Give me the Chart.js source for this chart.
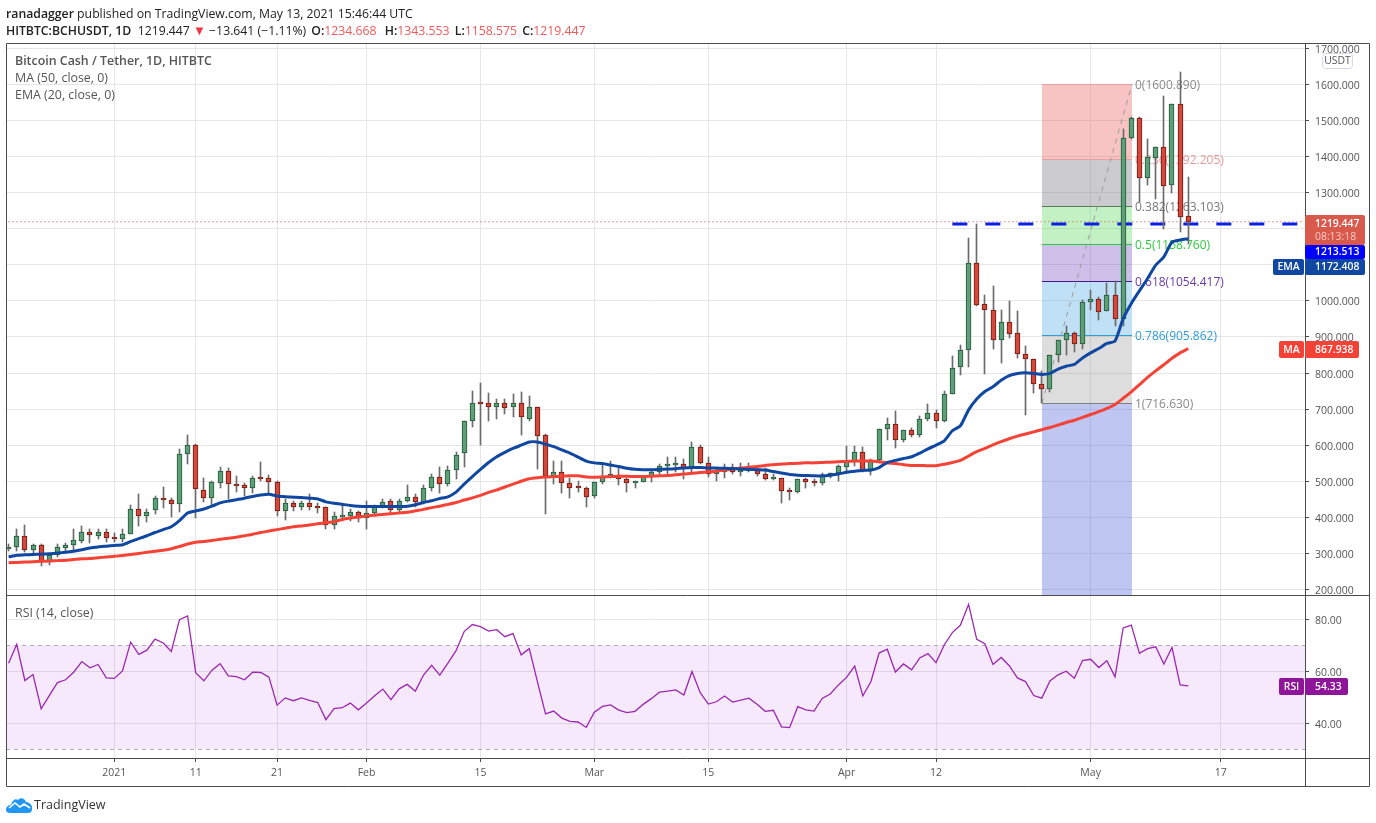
<!DOCTYPE html>
<html>
<head>
<meta charset="utf-8">
<title>BCHUSDT</title>
<script src="https://cdn.jsdelivr.net/npm/chart.js@4/dist/chart.umd.js"></script>
<style>
    html, body { margin: 0; padding: 0; background: #fff; overflow: hidden; }
    body { width: 1376px; height: 823px; position: relative; font-family: "Open Sans", sans-serif; }
    canvas { position: absolute; left: 0; top: 0; }
    .txt { position: absolute; white-space: pre; font-size: 12.4px; line-height: 16px; color: #555; }
    .top { color: #222; font-size: 12.25px; }
    .top b { font-weight: 600; }
    .top i { font-style: normal; color: #f05a5a; }
    .down { color: #f23645; font-size: 13px; line-height: 12px; }
</style>
</head>
<body>
<canvas id="chart" width="1376" height="823"></canvas>
<div class="txt top" style="left:6px;top:6px"><b>ranadagger</b> published on TradingView.com, May 13, 2021 15:46:44 UTC</div>
<div class="txt top" style="left:6px;top:23px"><b>HITBTC:BCHUSDT, 1D</b>  1219.447 <span class="down">&#9660;</span> &minus;13.641 (&minus;1.11%) <b style="margin-left:2px">O:</b><i>1234.668</i> <b style="margin-left:5px">H:</b><i>1343.553</i> <b style="margin-left:2px">L:</b><i>1158.575</i> <b style="margin-left:2px">C:</b><i>1219.447</i></div>
<div class="txt" style="left:15px;top:53px;font-weight:600">Bitcoin Cash / Tether, 1D, HITBTC</div>
<div class="txt" style="left:15px;top:70px">MA (50, close, 0)</div>
<div class="txt" style="left:15px;top:87px">EMA (20, close, 0)</div>
<div class="txt" style="left:15px;top:605px">RSI (14, close)</div>
<svg style="position:absolute;left:6px;top:796px" width="27" height="17" viewBox="0 0 27 17">
    <path d="M0 14 C0 10 3 9 5 9 C6 5 9 2 12 4 C14 1 19 2 20 6 C24 6 27 10 26 13 C26 16 24 17 22 17 L4 17 C2 17 0 16 0 14 Z" fill="#2196f3"/>
    <path d="M3 12 L9 7 L14 11 L18 8 L24 12" fill="none" stroke="#fff" stroke-width="1.6"/>
</svg>
<div class="txt" style="left:34px;top:797px;font-size:12.5px;color:#333">TradingView</div>

<script>
// first candle is 19 Dec 2020, day numbers count from 1 Jan 2021
var firstDay = -13;

var opens = [
    313, 317, 347, 310, 322, 275, 296, 316, 322, 334,
    358, 349, 358, 343, 341, 353, 422, 405, 419, 453,
    447, 436, 575, 600, 475, 453, 494, 528, 492, 489,
    481, 508, 508, 497, 417, 439, 430, 439, 430, 428,
    378, 402, 404, 415, 398, 412, 429, 446, 419, 445,
    457, 443, 482, 513, 493, 530, 577, 666, 718, 716,
    705, 718, 705, 718, 674, 705, 627, 515, 527, 496,
    483, 480, 459, 499, 512, 518, 505, 496, 499, 515,
    527, 542, 545, 549, 535, 594, 552, 520, 526, 540,
    526, 529, 535, 521, 506, 510, 475, 470, 505, 500,
    495, 514, 524, 540, 554, 580, 529, 560, 646, 660,
    615, 641, 629, 674, 688, 668, 743, 816, 863, 1105,
    991, 974, 891, 941, 910, 852, 838, 771, 757, 849,
    891, 910, 880, 996, 1005, 971, 1016, 949, 1453, 1508,
    1340, 1395, 1428, 1320, 1547, 1234.668
];
var highs = [
    326, 368, 379, 326, 326, 298, 326, 330, 367, 376,
    367, 367, 367, 356, 367, 434, 465, 422, 459, 484,
    454, 590, 629, 603, 509, 500, 539, 536, 514, 494,
    514, 553, 517, 500, 450, 444, 446, 464, 439, 430,
    414, 433, 422, 418, 444, 433, 450, 452, 450, 489,
    465, 489, 519, 539, 541, 580, 668, 749, 772, 744,
    728, 728, 742, 747, 735, 707, 630, 555, 555, 510,
    502, 485, 499, 547, 555, 536, 509, 501, 515, 533,
    547, 566, 566, 563, 609, 600, 568, 538, 547, 547,
    550, 550, 538, 538, 519, 510, 482, 506, 508, 506,
    522, 524, 544, 597, 597, 594, 563, 646, 675, 694,
    641, 649, 680, 714, 697, 749, 847, 878, 1175, 1214,
    1017, 1042, 975, 1000, 971, 875, 838, 805, 849, 891,
    930, 913, 1002, 1030, 1010, 1049, 1056, 1476, 1510, 1511,
    1448, 1428, 1568, 1547, 1635, 1343.553
];
var lows = [
    306, 306, 305, 295, 266, 269, 291, 306, 306, 330,
    329, 340, 332, 331, 332, 353, 377, 388, 410, 427,
    402, 416, 549, 399, 443, 434, 482, 452, 471, 460,
    468, 502, 467, 405, 392, 418, 421, 421, 413, 368,
    368, 390, 390, 387, 368, 404, 427, 413, 415, 443,
    430, 436, 473, 467, 487, 506, 540, 651, 601, 668,
    672, 686, 679, 629, 666, 535, 409, 492, 468, 454,
    471, 429, 454, 493, 510, 489, 470, 481, 498, 498,
    519, 517, 526, 506, 519, 547, 512, 501, 510, 519,
    515, 526, 515, 504, 504, 440, 447, 467, 480, 487,
    489, 508, 501, 524, 543, 526, 517, 552, 615, 593,
    609, 623, 623, 668, 648, 665, 743, 795, 818, 985,
    798, 867, 829, 897, 841, 684, 745, 718, 748, 830,
    850, 858, 867, 975, 947, 971, 930, 930, 1450, 1273,
    1322, 1283, 1198, 1299, 1192, 1158.575
];
var closes = [
    317, 347, 310, 322, 275, 296, 317, 322, 336, 358,
    352, 358, 342, 341, 353, 422, 405, 416, 453, 447,
    436, 575, 600, 478, 453, 497, 528, 492, 488, 481,
    508, 506, 497, 417, 439, 430, 439, 430, 427, 378,
    403, 405, 416, 398, 413, 429, 443, 421, 446, 457,
    443, 482, 513, 493, 530, 574, 666, 718, 715, 705,
    716, 702, 718, 677, 705, 626, 515, 527, 495, 482,
    481, 457, 499, 515, 521, 505, 496, 499, 515, 527,
    543, 546, 549, 538, 594, 552, 520, 527, 540, 526,
    532, 535, 520, 506, 510, 473, 470, 505, 498, 496,
    516, 524, 541, 555, 580, 529, 560, 646, 660, 615,
    641, 629, 674, 688, 668, 743, 814, 863, 1105, 988,
    974, 891, 941, 907, 852, 838, 771, 757, 849, 891,
    910, 880, 996, 1005, 970, 1016, 949, 1453, 1508, 1342,
    1400, 1428, 1318, 1547, 1232, 1219.447
];
var ema20 = [
    290, 295, 296, 297, 298, 299, 301, 303, 306, 310,
    315, 318, 320, 322, 324, 333, 341, 349, 358, 366,
    374, 391, 412, 418, 423, 431, 440, 445, 449, 453,
    458, 462, 464, 459, 457, 456, 455, 453, 451, 443,
    439, 436, 433, 431, 430, 430, 430, 430, 430, 431,
    435, 441, 446, 452, 457, 470, 492, 513, 533, 552,
    568, 580, 591, 600, 609, 609, 603, 596, 587, 578,
    567, 556, 551, 549, 545, 541, 536, 533, 532, 532,
    533, 534, 535, 537, 538, 538, 537, 537, 536, 535,
    534, 533, 532, 531, 527, 523, 519, 517, 516, 515,
    515, 517, 520, 525, 528, 530, 531, 538, 552, 558,
    563, 568, 578, 590, 600, 612, 640, 654, 698, 728,
    749, 762, 780, 793, 799, 801, 799, 796, 799, 811,
    819, 824, 842, 856, 868, 882, 889, 951, 993, 1028,
    1062, 1099, 1122, 1163, 1169, 1172.408
];
var ma50 = [
    274, 275, 276, 277, 278, 279, 280, 281, 283, 285,
    286, 288, 290, 292, 294, 297, 300, 303, 306, 309,
    313, 319, 326, 331, 333, 336, 339, 342, 345, 349,
    353, 358, 362, 366, 370, 374, 376, 379, 382, 385,
    388, 394, 398, 401, 404, 406, 408, 410, 412, 414,
    418, 422, 427, 431, 436, 441, 448, 454, 461, 469,
    476, 484, 492, 500, 507, 510, 512, 513, 514, 515,
    515, 512, 511, 512, 513, 514, 514, 513, 513, 514,
    515, 516, 518, 520, 522, 524, 526, 528, 531, 534,
    537, 539, 541, 544, 546, 548, 549, 550, 551, 551,
    552, 553, 554, 555, 556, 556, 556, 554, 551, 549,
    546, 544, 544, 543, 543, 547, 552, 558, 570, 582,
    591, 601, 610, 618, 625, 631, 637, 643, 649, 656,
    663, 669, 677, 685, 693, 702, 713, 730, 748, 768,
    788, 806, 823, 841, 856, 867.938
];
var rsi14 = [
    63.1, 70.4, 56.4, 58.7, 45.5, 50.6, 55.6, 56.7, 59.6, 63.7,
    61.3, 62.6, 57.4, 57.2, 60.1, 71.2, 66.5, 68.1, 72.4, 70.9,
    67.6, 79.9, 81.3, 59.4, 56.3, 60.4, 62.9, 58.2, 57.9, 56.7,
    59.6, 59.5, 57.7, 46.9, 49.7, 48.6, 49.7, 48.7, 47.9, 41.3,
    45.6, 45.9, 47.7, 45.1, 47.7, 50.5, 53.1, 49, 53.2, 54.9,
    52.3, 58.5, 62.3, 58.5, 63.1, 67.9, 75.3, 78, 77.2, 75.5,
    76, 73.3, 74.5, 66.3, 68.7, 56, 43.5, 44.6, 41.9, 40.6,
    40.4, 38.3, 44.2, 46.4, 47, 45, 44, 44.5, 47.2, 49.4,
    51.9, 52.3, 52.8, 50.8, 59.9, 51.8, 47.3, 48.2, 50.4, 48.1,
    48.8, 49.6, 47.2, 44.5, 44.9, 38.5, 38.2, 46.3, 45.1, 44.6,
    49.5, 51.2, 54.7, 57.6, 62, 50.5, 56, 67, 68.5, 59.7,
    62.8, 60.5, 65.1, 66.8, 63.3, 70.1, 74.9, 77.8, 85.8, 72.3,
    70.6, 62.6, 65.3, 62.1, 57.4, 56, 50.6, 49.6, 56.2, 58.6,
    60, 57.3, 64.1, 64.6, 61.4, 64, 57.8, 76.7, 77.8, 66.9,
    68.7, 69.4, 62.8, 69.2, 54.7, 54.33
];

var xTickDays = [0, 10, 20, 31, 45, 59, 73, 90, 101, 120, 136];
var xTickLabels = ['2021', '11', '21', 'Feb', '15', 'Mar', '15', 'Apr', '12', 'May', '17'];
var priceTicks = [200, 300, 400, 500, 600, 700, 800, 900, 1000, 1100, 1200, 1300, 1400, 1500, 1600, 1700];
var rsiTicks = [40, 60, 80];

// fib retracement drawn on the chart
var fibStartDay = 114;
var fibEndDay = 125.1;
var fibLevels = [1600.89, 1392.205, 1263.103, 1158.76, 1054.417, 905.862, 716.63];
var fibNames = ['0(1600.890)', '0.236(1392.205)', '0.382(1263.103)', '0.5(1158.760)', '0.618(1054.417)', '0.786(905.862)', '1(716.630)'];
var fibFills = ['rgba(235,90,90,0.36)', 'rgba(130,130,140,0.42)', 'rgba(70,215,75,0.33)', 'rgba(103,58,183,0.32)',
    'rgba(60,160,225,0.32)', 'rgba(128,128,128,0.27)', 'rgba(63,81,215,0.33)'];
var fibLines = ['#e8a0a0', '#e8a0a0', '#5c7a5c', '#2ecc40', '#4a1a8c', '#2d9cdb', '#808080'];
var fibText = ['#8a8a8a', '#e39a9a', '#777777', '#2ecc40', '#6a3ba8', '#2d9cdb', '#8a8a8a'];

var lastPrice = 1219.447;
var supportPrice = 1213.513;
var supportFrom = 103;
var supportTo = 146;
var priceMin = 184.7;
var priceMax = 1715;

var bodies = [], wicks = [], emaPts = [], maPts = [], rsiPts = [];
var bodyFill = [], bodyEdge = [];
for (var i = 0; i < closes.length; i++) {
    var d = firstDay + i;
    bodies.push({ x: d, y: [opens[i], closes[i]] });
    wicks.push({ x: d, y: [lows[i], highs[i]] });
    emaPts.push({ x: d, y: ema20[i] });
    maPts.push({ x: d, y: ma50[i] });
    rsiPts.push({ x: d, y: rsi14[i] });
    var up = closes[i] >= opens[i];
    bodyFill.push(up ? '#5f9e78' : '#d4493a');
    bodyEdge.push(up ? '#1f5a38' : '#701812');
}

function rect(ctx, x, y, w, h, color) {
    ctx.fillStyle = color;
    ctx.beginPath();
    ctx.roundRect(x, y, w, h, 2);
    ctx.fill();
}

function tag(ctx, text, y, x1, x2, h, color) {
    rect(ctx, x1, y, x2 - x1, h, color);
    ctx.fillStyle = '#fff';
    ctx.font = '600 10.4px "Open Sans"';
    ctx.textAlign = 'left';
    ctx.textBaseline = 'middle';
    ctx.fillText(text, x1 + 10, y + h / 2 + 0.5);
}

function nameTag(ctx, text, y, x1, x2, h, color) {
    rect(ctx, x1, y, x2 - x1, h, color);
    ctx.fillStyle = '#fff';
    ctx.font = '600 10.4px "Open Sans"';
    ctx.textAlign = 'center';
    ctx.textBaseline = 'middle';
    ctx.fillText(text, (x1 + x2) / 2, y + h / 2 + 0.5);
}

var underlay = {
    id: 'underlay',
    // snap candles to whole pixels so the bodies stay crisp
    afterDatasetsUpdate: function (chart) {
        chart.getSortedVisibleDatasetMetas().forEach(function (meta) {
            if (meta.type !== 'bar') return;
            meta.data.forEach(function (bar) {
                bar.x = Math.floor(bar.x) + 0.5;
                bar.y = Math.round(bar.y);
                bar.base = Math.round(bar.base);
                if (bar.y === bar.base) bar.base = bar.y + 1;
            });
        });
    },
    beforeDatasetsDraw: function (chart) {
        var ctx = chart.ctx, xs = chart.scales.x, ys = chart.scales.y, rs = chart.scales.rsi;
        var x1 = Math.round(xs.getPixelForValue(fibStartDay)), x2 = Math.round(xs.getPixelForValue(fibEndDay));
        ctx.save();

        // rsi band
        var y70 = rs.getPixelForValue(70), y30 = rs.getPixelForValue(30);
        ctx.fillStyle = 'rgba(156,39,220,0.1)';
        ctx.fillRect(xs.left, y70, xs.right - xs.left, y30 - y70);
        ctx.strokeStyle = '#b5aab9';
        ctx.lineWidth = 1;
        ctx.setLineDash([4, 4]);
        ctx.beginPath();
        ctx.moveTo(xs.left, Math.round(y70) + 0.5); ctx.lineTo(xs.right, Math.round(y70) + 0.5);
        ctx.moveTo(xs.left, Math.round(y30) + 0.5); ctx.lineTo(xs.right, Math.round(y30) + 0.5);
        ctx.stroke();
        ctx.setLineDash([]);

        // fib bands and lines
        for (var i = 0; i < fibLevels.length; i++) {
            var top = ys.getPixelForValue(fibLevels[i]);
            var bottom = i + 1 < fibLevels.length ? ys.getPixelForValue(fibLevels[i + 1]) : ys.bottom;
            ctx.fillStyle = fibFills[i];
            ctx.fillRect(x1, top, x2 - x1, bottom - top);
        }
        ctx.font = '12px "Open Sans"';
        ctx.textBaseline = 'middle';
        ctx.textAlign = 'left';
        for (i = 0; i < fibLevels.length; i++) {
            var y = Math.round(ys.getPixelForValue(fibLevels[i])) + 0.5;
            ctx.strokeStyle = fibLines[i];
            ctx.beginPath();
            ctx.moveTo(x1, y);
            ctx.lineTo(x2, y);
            ctx.stroke();
            ctx.fillStyle = fibText[i];
            ctx.fillText(fibNames[i], x2 + 3, y + 1);
        }

        // fib trend line
        ctx.strokeStyle = '#9a9a9a';
        ctx.setLineDash([5, 5]);
        ctx.beginPath();
        ctx.moveTo(x1, ys.getPixelForValue(fibLevels[6]));
        ctx.lineTo(x2, ys.getPixelForValue(fibLevels[0]));
        ctx.stroke();
        ctx.restore();
    },
    afterDraw: function (chart) {
        var ctx = chart.ctx;
        ctx.save();

        // frame
        ctx.strokeStyle = '#4c4c4c';
        ctx.lineWidth = 1;
        ctx.beginPath();
        ctx.rect(6.5, 43.5, 1363, 743);
        ctx.moveTo(1305.5, 43); ctx.lineTo(1305.5, 786);
        ctx.moveTo(6, 595.5); ctx.lineTo(1369, 595.5);
        ctx.moveTo(6, 758.5); ctx.lineTo(1369, 758.5);
        ctx.stroke();

        // usdt box
        ctx.fillStyle = '#fff';
        ctx.strokeStyle = '#d5d8e4';
        ctx.beginPath();
        ctx.roundRect(1322.5, 53.5, 30, 15, 3);
        ctx.fill();
        ctx.stroke();
        ctx.fillStyle = '#555';
        ctx.font = '10.4px "Open Sans"';
        ctx.textAlign = 'center';
        ctx.textBaseline = 'middle';
        ctx.fillText('USDT', 1337.5, 61.5);

        // price tags
        rect(ctx, 1305, 215, 60, 30, '#d9594c');
        ctx.fillStyle = '#fff';
        ctx.font = '600 10.4px "Open Sans"';
        ctx.textAlign = 'left';
        ctx.fillText(lastPrice.toFixed(3), 1315, 224);
        ctx.fillStyle = '#f6c9c3';
        ctx.font = '10.4px "Open Sans"';
        ctx.fillText('08:13:18', 1315, 237);
        tag(ctx, supportPrice.toFixed(3), 245, 1305, 1365, 14, '#0000ff');
        tag(ctx, ema20[ema20.length - 1].toFixed(3), 259, 1305, 1365, 16, '#0f47a1');
        nameTag(ctx, 'EMA', 259, 1273, 1304, 16, '#0f47a1');
        tag(ctx, ma50[ma50.length - 1].toFixed(3), 341, 1305, 1359, 17, '#f44336');
        nameTag(ctx, 'MA', 341, 1279, 1304, 17, '#f44336');
        tag(ctx, rsi14[rsi14.length - 1].toFixed(2), 678, 1305, 1348, 17, '#8e1599');
        nameTag(ctx, 'RSI', 678, 1279, 1304, 17, '#8e1599');
        ctx.restore();
    }
};

var tickFont = { family: '"Open Sans"', size: 10.5 };

new Chart(document.getElementById('chart'), {
    type: 'bar',
    data: {
        datasets: [{
            type: 'line',
            data: [{ x: -14, y: lastPrice }, { x: supportTo, y: lastPrice }],
            borderColor: '#c9483b',
            borderWidth: 1,
            borderDash: [1, 3],
            pointRadius: 0,
            yAxisID: 'y',
            order: 7
        }, {
            type: 'line',
            data: [{ x: supportFrom, y: supportPrice }, { x: supportTo, y: supportPrice }],
            borderColor: '#0a1fe6',
            borderWidth: 3,
            borderDash: [15, 18],
            pointRadius: 0,
            yAxisID: 'y',
            order: 6
        }, {
            data: wicks,
            backgroundColor: '#6b6b6b',
            barThickness: 1,
            grouped: false,
            yAxisID: 'y',
            order: 5
        }, {
            data: bodies,
            backgroundColor: bodyFill,
            borderColor: bodyEdge,
            borderWidth: 1,
            borderSkipped: false,
            barThickness: 5,
            minBarLength: 2,
            grouped: false,
            yAxisID: 'y',
            order: 4
        }, {
            type: 'line',
            data: maPts,
            borderColor: '#f44336',
            borderWidth: 3,
            pointRadius: 0,
            tension: 0.2,
            yAxisID: 'y',
            order: 3
        }, {
            type: 'line',
            data: emaPts,
            borderColor: '#0f47a1',
            borderWidth: 3,
            pointRadius: 0,
            tension: 0.2,
            yAxisID: 'y',
            order: 2
        }, {
            type: 'line',
            data: rsiPts,
            borderColor: '#9c27b0',
            borderWidth: 1.3,
            pointRadius: 0,
            yAxisID: 'rsi',
            order: 1
        }]
    },
    plugins: [underlay],
    options: {
        responsive: false,
        animation: false,
        layout: { padding: { left: 6, top: 43, right: 7, bottom: 37 } },
        plugins: { legend: { display: false }, tooltip: { enabled: false } },
        scales: {
            x: {
                type: 'linear',
                min: -13.32,
                max: 146.35,
                offset: false,
                grid: { offset: false, color: '#e6e6e6', tickColor: '#4c4c4c', tickLength: 4 },
                border: { display: false },
                afterBuildTicks: function (scale) {
                    scale.ticks = xTickDays.map(function (v) { return { value: v }; });
                },
                afterFit: function (scale) { scale.height = 28; },
                ticks: {
                    autoSkip: false,
                    maxRotation: 0,
                    padding: 5,
                    color: '#555',
                    font: tickFont,
                    callback: function (value, index) { return xTickLabels[index]; }
                }
            },
            y: {
                type: 'linear',
                position: 'right',
                stack: 'panes',
                stackWeight: 552,
                min: priceMin,
                max: priceMax,
                grid: { color: '#e6e6e6', tickColor: '#4c4c4c', tickLength: 4 },
                border: { display: false },
                afterBuildTicks: function (scale) {
                    scale.ticks = priceTicks.map(function (v) { return { value: v }; });
                },
                afterFit: function (scale) { scale.width = 64; },
                ticks: {
                    padding: 6,
                    labelOffset: 1.5,
                    color: '#555',
                    font: tickFont,
                    callback: function (value) { return value.toFixed(3); }
                }
            },
            rsi: {
                type: 'linear',
                position: 'right',
                stack: 'panes',
                stackWeight: 163,
                min: 26.5,
                max: 89.4,
                grid: { color: '#e6e6e6', tickColor: '#4c4c4c', tickLength: 4 },
                border: { display: false },
                afterBuildTicks: function (scale) {
                    scale.ticks = rsiTicks.map(function (v) { return { value: v }; });
                },
                afterFit: function (scale) { scale.width = 64; },
                ticks: {
                    padding: 6,
                    labelOffset: 1.5,
                    color: '#555',
                    font: tickFont,
                    callback: function (value) { return value.toFixed(2); }
                }
            }
        }
    }
});
</script>
</body>
</html>
